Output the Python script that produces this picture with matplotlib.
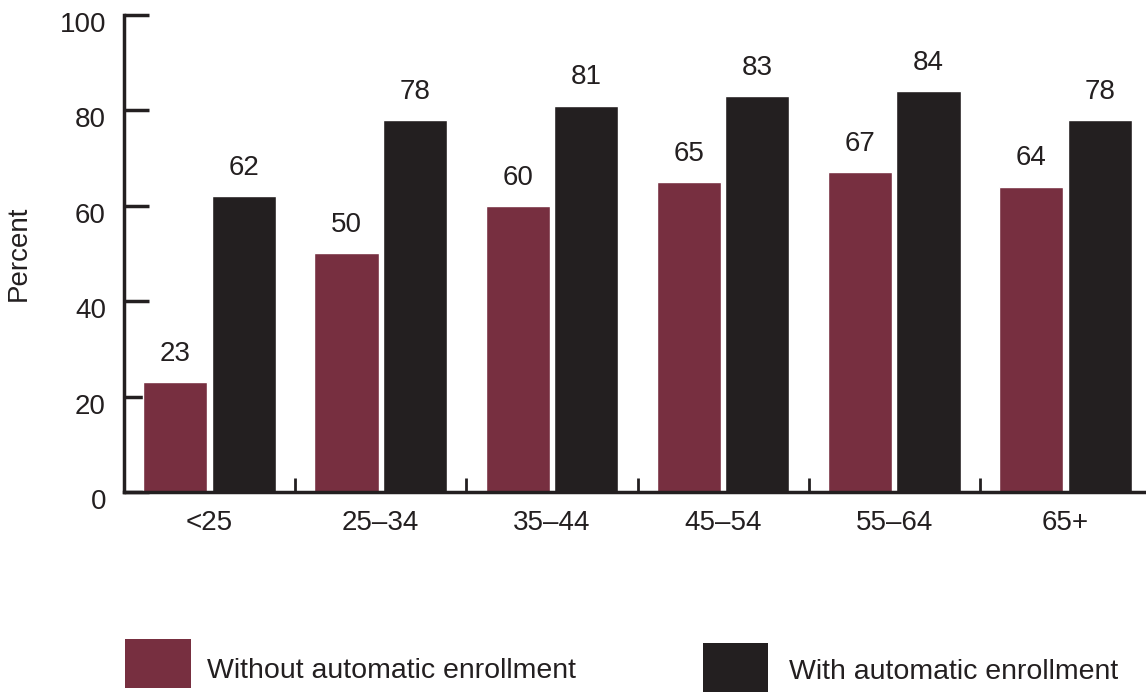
import matplotlib
matplotlib.use("Agg")
import matplotlib.pyplot as plt
import matplotlib.transforms as mtransforms
import numpy as np
from matplotlib.patches import Rectangle

plt.rcParams['font.family'] = ['Liberation Sans', 'DejaVu Sans']

age_groups = ["<25", "25\u201334", "35\u201344", "45\u201354", "55\u201364", "65+"]
without_auto = [23, 50, 60, 65, 67, 64]
with_auto = [62, 78, 81, 83, 84, 78]
series_labels = ["Without automatic enrollment", "With automatic enrollment"]
colors = ["#772F40", "#231F20"]
ink = "#231F20"
fs = 20

fig = plt.figure(figsize=(11.46, 6.92), dpi=100)
ax = fig.add_axes([124 / 1146, 200 / 692, 1022 / 1146, 477 / 692])

x = np.arange(len(age_groups))
width = 0.375
offset = 0.2
b1 = ax.bar(x - offset, without_auto, width, color=colors[0], edgecolor="white", linewidth=1.0, zorder=2)
b2 = ax.bar(x + offset, with_auto, width, color=colors[1], edgecolor="white", linewidth=1.0, zorder=2)

for bars, vals in ((b1, without_auto), (b2, with_auto)):
    for rect, v in zip(bars, vals):
        ax.annotate(f"{v}", (rect.get_x() + rect.get_width() / 2, v),
                    xytext=(0, 11), textcoords="offset points",
                    ha="center", va="bottom", fontsize=fs, color=ink)

ax.set_ylim(0, 100)
ax.set_xlim(-0.5, 5.47)
ax.set_yticks([0, 20, 40, 60, 80, 100])
ax.tick_params(axis="y", direction="in", length=18, width=2.5, color=ink,
               labelsize=fs, pad=13, labelcolor=ink)
ax.tick_params(axis="x", which="major", length=0, labelsize=fs, pad=13, labelcolor=ink)
ax.set_xticks(x)
ax.set_xticklabels(age_groups)
ax.set_xticks(np.arange(0.5, 5.5, 1.0), minor=True)
ax.tick_params(axis="x", which="minor", direction="in", length=10, width=2, color=ink)

# y tick labels sit slightly below their ticks
shift = mtransforms.ScaledTranslation(0, -7 / 100, fig.dpi_scale_trans)
for lbl in ax.get_yticklabels():
    lbl.set_transform(lbl.get_transform() + shift)

for side in ("top", "right"):
    ax.spines[side].set_visible(False)
for side in ("left", "bottom"):
    ax.spines[side].set_linewidth(2.5)
    ax.spines[side].set_color(ink)

ax.set_ylabel("Percent", fontsize=fs, color=ink, labelpad=20)

# Legend drawn as swatches plus text in figure coordinates
fig.patches.append(Rectangle((125 / 1146, (692 - 688) / 692), 66 / 1146, 49 / 692,
                             transform=fig.transFigure, facecolor=colors[0], edgecolor="none"))
fig.text(207 / 1146, (692 - 678) / 692, series_labels[0], fontsize=20.5, va="baseline",
         ha="left", color=ink)
fig.patches.append(Rectangle((703 / 1146, 0), 65 / 1146, 49 / 692,
                             transform=fig.transFigure, facecolor=colors[1], edgecolor="none"))
fig.text(789 / 1146, (692 - 679) / 692, series_labels[1], fontsize=20.5, va="baseline",
         ha="left", color=ink)

fig.savefig("out.png", dpi=100)
